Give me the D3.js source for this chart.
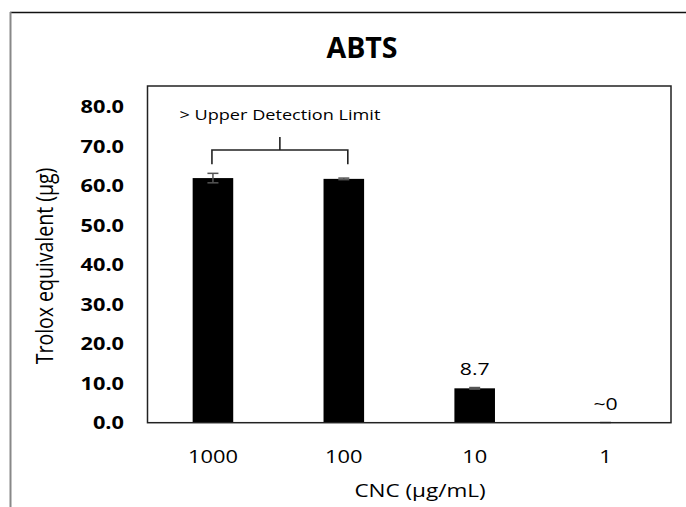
<!DOCTYPE html>
<html>
<head>
<meta charset="utf-8">
<script src="https://cdn.jsdelivr.net/npm/d3@7"></script>
<style>
  body { margin: 0; background: #fff; }
  svg { display: block; }
  text { font-family: "Open Sans", sans-serif; fill: #000; }
</style>
</head>
<body>
<div id="chart"></div>
<script>
const width = 686,
  height = 507;

// data
const categories = ["1000", "100", "10", "1"];
const values = [61.9, 61.7, 8.7, 0];
const errors = [1.2, 0.2, 0.2, 0.05];
const valueLabels = ["", "", "8.7", "~0"];
const yTicks = [0, 10, 20, 30, 40, 50, 60, 70, 80];

// the reference text looks stretched sideways
const sx = 1.25;

const plot = { left: 147.5, top: 86, right: 671, bottom: 422.7 };

const svg = d3
  .select("#chart")
  .append("svg")
  .attr("width", width)
  .attr("height", height);

// page frame (only top and left edges show)
svg.append("line")
  .attr("x1", 10).attr("x2", width).attr("y1", 12.5).attr("y2", 12.5)
  .attr("stroke", "#111").attr("stroke-width", 1.5);
svg.append("line")
  .attr("x1", 10.5).attr("x2", 10.5).attr("y1", 12).attr("y2", height)
  .attr("stroke", "#888").attr("stroke-width", 2);

const x = d3
  .scaleBand()
  .domain(categories)
  .range([plot.left, plot.right])
  .paddingInner(0.69)
  .paddingOuter(0.345);

const y = d3.scaleLinear().domain([0, 85.2]).range([plot.bottom, plot.top]);

// title
svg.append("text")
  .attr("transform", `translate(362,58) scale(1.02,1)`)
  .attr("text-anchor", "middle")
  .attr("font-weight", "bold")
  .attr("font-size", 28)
  .text("ABTS");

// bars
const rows = categories.map((c, i) => ({ c, v: values[i], e: errors[i], label: valueLabels[i] }));

svg.selectAll(".bar")
  .data(rows)
  .enter()
  .append("rect")
  .attr("class", "bar")
  .attr("x", (d) => x(d.c))
  .attr("width", x.bandwidth())
  .attr("y", (d) => y(d.v))
  .attr("height", (d) => y(0) - y(d.v))
  .attr("fill", "#000");

// error bars
const cap = 5.5;
const cx = (d) => x(d.c) + x.bandwidth() / 2;
const err = svg.selectAll(".err").data(rows).enter().append("g").attr("class", "err")
  .attr("stroke", "#555").attr("stroke-width", 1.5);
err.append("line")
  .attr("x1", cx)
  .attr("x2", cx)
  .attr("y1", (d) => y(d.v + d.e))
  .attr("y2", (d) => y(Math.max(0, d.v - d.e)));
err.append("line")
  .attr("x1", (d) => cx(d) - cap)
  .attr("x2", (d) => cx(d) + cap)
  .attr("y1", (d) => y(d.v + d.e))
  .attr("y2", (d) => y(d.v + d.e));
err.filter((d) => d.v > 0).append("line")
  .attr("x1", (d) => cx(d) - cap)
  .attr("x2", (d) => cx(d) + cap)
  .attr("y1", (d) => y(d.v - d.e))
  .attr("y2", (d) => y(d.v - d.e));

// value labels
svg.selectAll(".vlab")
  .data(rows.filter((d) => d.label))
  .enter()
  .append("text")
  .attr("class", "vlab")
  .attr("transform", (d) => `translate(${cx(d)},${y(d.v + d.e) - 12.5}) scale(${sx},1)`)
  .attr("text-anchor", "middle")
  .attr("font-size", 17)
  .text((d) => d.label);

// plot box
svg.append("rect")
  .attr("x", plot.left)
  .attr("y", plot.top)
  .attr("width", plot.right - plot.left)
  .attr("height", plot.bottom - plot.top)
  .attr("fill", "none")
  .attr("stroke", "#222")
  .attr("stroke-width", 1.5);

// bracket over the two saturated bars
const bx1 = cx(rows[0]) - 1,
  bx2 = cx(rows[1]) + 4,
  bmid = (bx1 + bx2) / 2;
svg.append("path")
  .attr("d", `M${bx1},${y(65.4)}V${y(69)}H${bx2}V${y(65.4)}M${bmid},${y(69)}V${y(72.3)}`)
  .attr("fill", "none")
  .attr("stroke", "#222")
  .attr("stroke-width", 1.6);
svg.append("text")
  .attr("transform", `translate(${bmid},${y(76.5)}) scale(${sx},1)`)
  .attr("text-anchor", "middle")
  .attr("font-size", 14.5)
  .text("> Upper Detection Limit");

// y axis
const yAxis = svg.append("g")
  .attr("transform", `translate(${plot.left},0)`)
  .call(d3.axisLeft(y).tickValues(yTicks).tickFormat(d3.format(".1f")).tickSize(0).tickPadding(0));
yAxis.select(".domain").remove();
yAxis.selectAll("text")
  .attr("x", -23.5 / sx)
  .attr("dy", "0.35em")
  .attr("transform", `scale(${sx},1)`)
  .attr("font-family", "Open Sans, sans-serif")
  .attr("font-weight", "bold")
  .attr("font-size", 17.4)
  .attr("fill", "#000");

// x axis
const xAxis = svg.append("g")
  .attr("transform", `translate(0,${plot.bottom})`)
  .call(d3.axisBottom(x).tickSize(0).tickPadding(0));
xAxis.select(".domain").remove();
xAxis.selectAll("text")
  .attr("y", 40)
  .attr("dy", 0)
  .attr("transform", `scale(${sx},1)`)
  .attr("font-family", "Open Sans, sans-serif")
  .attr("font-size", 17.5)
  .attr("fill", "#000");

// axis titles
svg.append("text")
  .attr("transform", `translate(420,497) scale(${sx},1)`)
  .attr("text-anchor", "middle")
  .attr("font-size", 18)
  .text("CNC (µg/mL)");

svg.append("text")
  .attr("transform", `translate(53,266) scale(${sx},1) rotate(-90)`)
  .attr("text-anchor", "middle")
  .attr("font-size", 19.5)
  .text("Trolox equivalent (µg)");
</script>
</body>
</html>
